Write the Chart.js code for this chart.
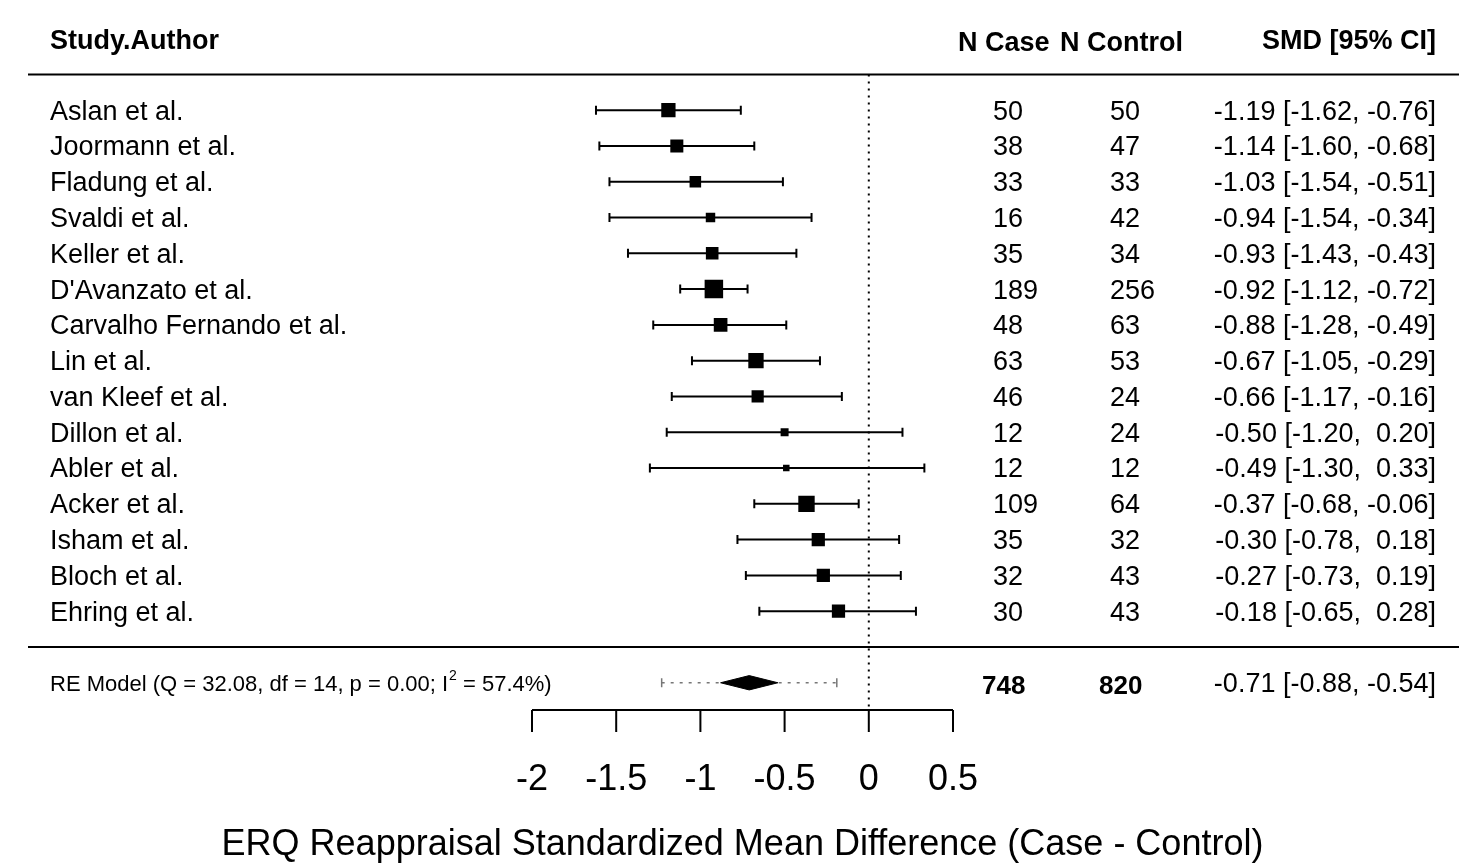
<!DOCTYPE html>
<html>
<head>
<meta charset="utf-8">
<script src="https://cdn.jsdelivr.net/npm/chart.js@4"></script>
<style>
  html, body { margin: 0; padding: 0; background: #fff; }
  canvas { display: block; }
</style>
</head>
<body>
<canvas id="forest" width="1471" height="865"></canvas>
<script>
// Study data (top to bottom)
const studies = ['Aslan et al.', 'Joormann et al.', 'Fladung et al.', 'Svaldi et al.', 'Keller et al.',
  "D'Avanzato et al.", 'Carvalho Fernando et al.', 'Lin et al.', 'van Kleef et al.', 'Dillon et al.',
  'Abler et al.', 'Acker et al.', 'Isham et al.', 'Bloch et al.', 'Ehring et al.'];
const nCase = [50, 38, 33, 16, 35, 189, 48, 63, 46, 12, 12, 109, 35, 32, 30];
const nControl = [50, 47, 33, 42, 34, 256, 63, 53, 24, 24, 12, 64, 32, 43, 43];
const smd = [-1.19, -1.14, -1.03, -0.94, -0.93, -0.92, -0.88, -0.67, -0.66, -0.50, -0.49, -0.37, -0.30, -0.27, -0.18];
const ciLower = [-1.62, -1.60, -1.54, -1.54, -1.43, -1.12, -1.28, -1.05, -1.17, -1.20, -1.30, -0.68, -0.78, -0.73, -0.65];
const ciUpper = [-0.76, -0.68, -0.51, -0.34, -0.43, -0.72, -0.49, -0.29, -0.16, 0.20, 0.33, -0.06, 0.18, 0.19, 0.28];
// estimated RE weights (%)
const weights = [7.6, 7.0, 6.3, 5.3, 6.8, 9.6, 7.3, 8.1, 6.6, 4.6, 3.9, 8.6, 7.1, 7.1, 7.1];

// Summary (RE model)
const summaryEst = -0.71;
const summaryCI = [-0.88, -0.54];
const predInterval = [-1.23, -0.19];
const totalCase = 748;
const totalControl = 820;
const modelLabel = ['RE Model (Q = 32.08, df = 14, p = 0.00; I', '2', ' = 57.4%)'];

const xTicks = [-2, -1.5, -1, -0.5, 0, 0.5];
const xLabel = 'ERQ Reappraisal Standardized Mean Difference (Case - Control)';

// metafor-style rows: studies k..1, summary at -1
const k = studies.length;
const rows = studies.map((s, i) => k - i);
const summaryRow = -1;
const axisRow = -1.76;
const FONT = '"Liberation Sans", Arial, sans-serif';

const fmt = (v) => {
  const s = v.toFixed(2);
  return v < 0 ? s : ' ' + s;
};

// box sizes from weights (metafor scales between 0.5x and 1.5x)
const wMin = Math.min(...weights), wMax = Math.max(...weights);
const boxRadius = weights.map((w) => (6.5 + ((w - wMin) / (wMax - wMin)) * 12) / (2 * Math.SQRT1_2));

const datasets = [];

// squares
datasets.push({
  type: 'scatter',
  order: 0,
  data: smd.map((v, i) => ({ x: v, y: rows[i] })),
  pointStyle: 'rect',
  pointRadius: boxRadius,
  backgroundColor: '#000',
  borderWidth: 0,
});

// CI whisker caps
datasets.push({
  type: 'scatter',
  order: 1,
  data: rows.flatMap((r, i) => [{ x: ciLower[i], y: r }, { x: ciUpper[i], y: r }]),
  pointStyle: 'line',
  rotation: 90,
  pointRadius: 4.5,
  borderColor: '#000',
  borderWidth: 2,
});

// CI lines
rows.forEach((r, i) => {
  datasets.push({
    type: 'line',
    order: 2,
    data: [{ x: ciLower[i], y: r }, { x: ciUpper[i], y: r }],
    borderColor: '#000',
    borderWidth: 2,
    pointRadius: 0,
  });
});

// summary diamond
datasets.push({
  type: 'line',
  order: 0,
  data: [
    { x: summaryCI[0], y: summaryRow },
    { x: summaryEst, y: summaryRow + 0.2 },
    { x: summaryCI[1], y: summaryRow },
    { x: summaryEst, y: summaryRow - 0.2 },
    { x: summaryCI[0], y: summaryRow },
  ],
  borderColor: '#000',
  borderWidth: 1,
  backgroundColor: '#000',
  fill: 'shape',
  pointRadius: 0,
  tension: 0,
});

// prediction interval
datasets.push({
  type: 'line',
  order: 3,
  data: [{ x: predInterval[0], y: summaryRow }, { x: predInterval[1], y: summaryRow }],
  borderColor: '#777',
  borderWidth: 1.5,
  borderDash: [3, 6],
  pointRadius: 0,
});
datasets.push({
  type: 'scatter',
  order: 3,
  data: [{ x: predInterval[0], y: summaryRow }, { x: predInterval[1], y: summaryRow }],
  pointStyle: 'line',
  rotation: 90,
  pointRadius: 4.5,
  borderColor: '#777',
  borderWidth: 1.5,
});

// zero reference line
datasets.push({
  type: 'line',
  order: 9,
  data: [{ x: 0, y: k + 1 }, { x: 0, y: axisRow }],
  borderColor: '#000',
  borderWidth: 2,
  borderDash: [2, 5],
  pointRadius: 0,
});

const textPlugin = {
  id: 'forestText',
  afterDraw(chart) {
    const { ctx, scales: { x, y } } = chart;
    const yr = (r) => y.getPixelForValue(r);
    ctx.save();
    ctx.fillStyle = '#000';
    ctx.strokeStyle = '#000';
    ctx.textBaseline = 'middle';

    // header
    ctx.font = 'bold 27px ' + FONT;
    ctx.textAlign = 'left';
    ctx.fillText('Study.Author', 50, yr(k + 2) + 3);
    ctx.fillText('N Case', 958, yr(k + 2) + 5);
    ctx.fillText('N Control', 1060, yr(k + 2) + 5);
    ctx.textAlign = 'right';
    ctx.fillText('SMD [95% CI]', 1436, yr(k + 2) + 3);

    // horizontal rules
    ctx.lineWidth = 2;
    [k + 1, 0].forEach((r) => {
      ctx.beginPath();
      ctx.moveTo(28, yr(r));
      ctx.lineTo(1459, yr(r));
      ctx.stroke();
    });

    // study rows
    ctx.font = '27px ' + FONT;
    studies.forEach((s, i) => {
      const py = yr(rows[i]) + 2;
      ctx.textAlign = 'left';
      ctx.fillText(s, 50, py);
      ctx.fillText(String(nCase[i]), 993, py);
      ctx.fillText(String(nControl[i]), 1110, py);
      ctx.textAlign = 'right';
      ctx.fillText(fmt(smd[i]) + ' [' + fmt(ciLower[i]) + ', ' + fmt(ciUpper[i]) + ']', 1436, py);
    });

    // summary row
    const sy = yr(summaryRow) + 2;
    ctx.textAlign = 'left';
    ctx.font = '22px ' + FONT;
    let tx = 50;
    ctx.fillText(modelLabel[0], tx, sy);
    tx += ctx.measureText(modelLabel[0]).width;
    ctx.font = '14px ' + FONT;
    ctx.fillText(modelLabel[1], tx + 1, sy - 9);
    tx += ctx.measureText(modelLabel[1]).width + 1;
    ctx.font = '22px ' + FONT;
    ctx.fillText(modelLabel[2], tx, sy);

    ctx.font = 'bold 26px ' + FONT;
    ctx.fillText(String(totalCase), 982, sy + 2);
    ctx.fillText(String(totalControl), 1099, sy + 2);
    ctx.font = '27px ' + FONT;
    ctx.textAlign = 'right';
    ctx.fillText(fmt(summaryEst) + ' [' + fmt(summaryCI[0]) + ', ' + fmt(summaryCI[1]) + ']', 1436, sy);

    // x axis
    const ay = yr(axisRow);
    ctx.lineWidth = 2;
    ctx.beginPath();
    ctx.moveTo(x.getPixelForValue(xTicks[0]), ay);
    ctx.lineTo(x.getPixelForValue(xTicks[xTicks.length - 1]), ay);
    xTicks.forEach((t) => {
      const px = x.getPixelForValue(t);
      ctx.moveTo(px, ay);
      ctx.lineTo(px, ay + 22);
    });
    ctx.stroke();
    ctx.font = '36px ' + FONT;
    ctx.textAlign = 'center';
    xTicks.forEach((t) => {
      ctx.fillText(String(t), x.getPixelForValue(t), ay + 70);
    });
    ctx.fillText(xLabel, (x.left + x.right) / 2, ay + 135);
    ctx.restore();
  },
};

new Chart(document.getElementById('forest'), {
  type: 'scatter',
  data: { datasets },
  options: {
    responsive: false,
    devicePixelRatio: 1,
    animation: false,
    layout: { autoPadding: false, padding: { left: 532, right: 518, top: 2.8, bottom: 3.3 } },
    plugins: { legend: { display: false }, tooltip: { enabled: false } },
    scales: {
      x: { type: 'linear', min: -2, max: 0.5, display: false },
      y: { type: 'linear', min: -6, max: 18, display: false, bounds: 'data' },
    },
  },
  plugins: [textPlugin],
});
</script>
</body>
</html>
